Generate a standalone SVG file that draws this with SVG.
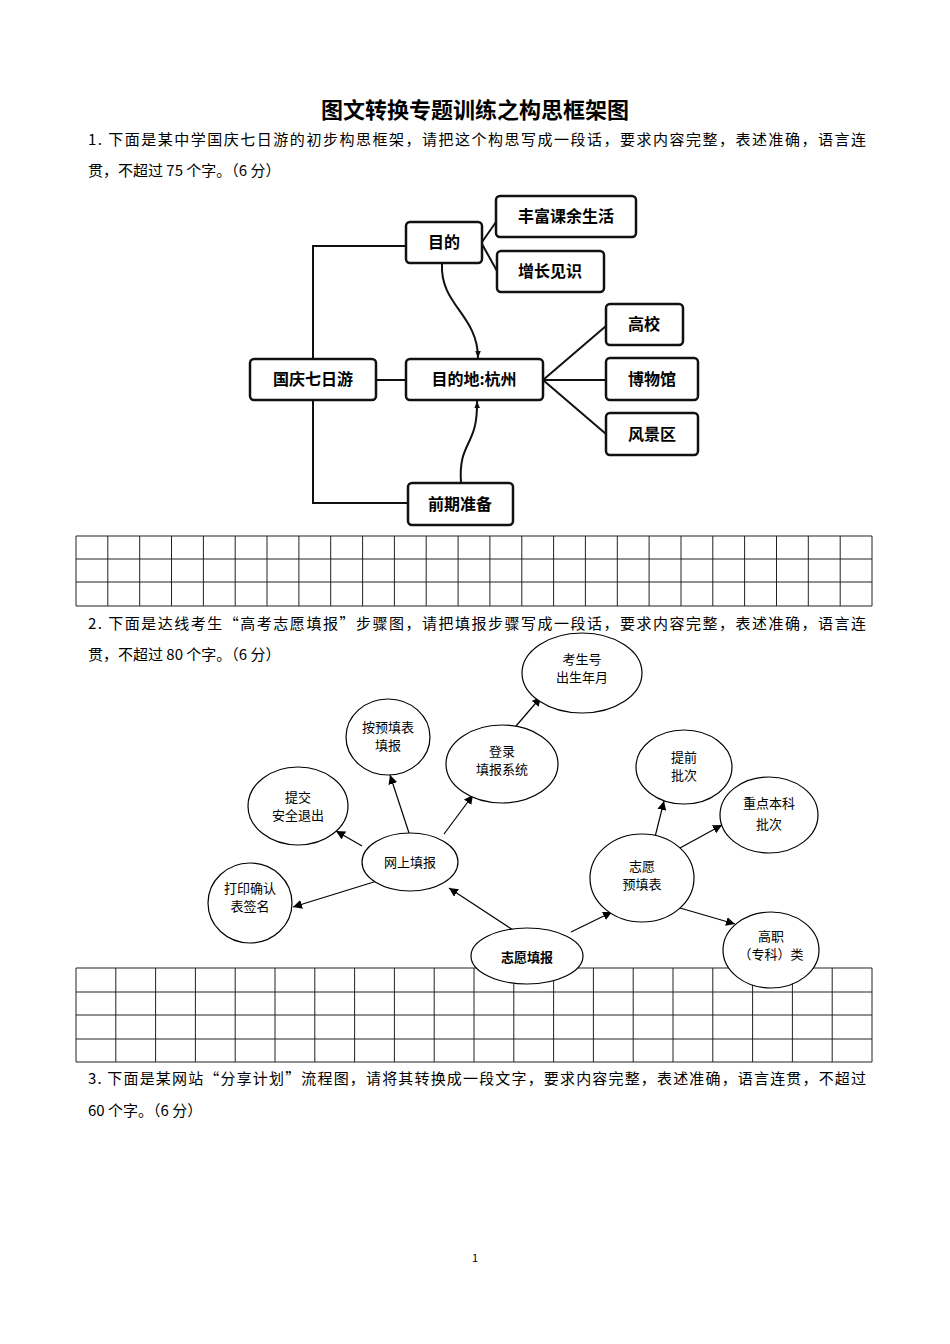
<svg xmlns="http://www.w3.org/2000/svg" width="950" height="1344" viewBox="0 0 950 1344">
<style>
text{font-family:"Noto Sans CJK SC","Liberation Serif",serif;fill:#000}
.p{font-size:15px}
.b1 rect{fill:#fff;stroke:#111;stroke-width:2.5}
.b1 text{font-size:16px;font-weight:bold;text-anchor:middle}
.c1{fill:none;stroke:#111;stroke-width:2}
.e ellipse{fill:#fff;stroke:#000;stroke-width:1.2}
.e text{font-size:13px;text-anchor:middle}
.c2{fill:none;stroke:#000;stroke-width:1.2;marker-end:url(#ah)}
.g{fill:none;stroke:#222;stroke-width:1}
</style>
<defs>
<marker id="ah" viewBox="0 0 10 10" refX="10" refY="5" markerWidth="9" markerHeight="9" markerUnits="userSpaceOnUse" orient="auto"><path d="M0,0L10,5L0,10z" fill="#000"/></marker>
<marker id="ah1" viewBox="0 0 10 10" refX="10" refY="5" markerWidth="7" markerHeight="7" markerUnits="userSpaceOnUse" orient="auto"><path d="M0,1L10,5L0,9z" fill="#111"/></marker>
</defs>
<rect width="950" height="1344" fill="#fff"/>
<text x="475" y="118" font-size="22" font-weight="bold" text-anchor="middle">图文转换专题训练之构思框架图</text>
<text class="p" x="88" y="145" textLength="778">1. 下面是某中学国庆七日游的初步构思框架，请把这个构思写成一段话，要求内容完整，表述准确，语言连</text>
<text class="p" x="88" y="176">贯，不超过 75 个字。（6 分）</text>

<g id="connectors1">
<path class="c1" d="M405,246H313V503H408M376,380H406M482,242L496,222M482,244L497,271M543,380L606,326M543,380H606M543,380L606,434"/>
<path class="c1" d="M442,264C440,305 478,315 478,358" marker-end="url(#ah1)"/>
<path class="c1" d="M461,483C458,440 478,448 477,401" marker-end="url(#ah1)"/>
</g>
<g class="b1">
<g id="n_mudi"><rect x="406" y="222" width="76" height="41" rx="4"/><text x="444" y="248">目的</text></g>
<g id="n_fengfu"><rect x="496" y="196" width="140" height="41" rx="4"/><text x="566" y="222">丰富课余生活</text></g>
<g id="n_zengzhang"><rect x="497" y="251" width="107" height="41" rx="4"/><text x="550" y="277">增长见识</text></g>
<g id="n_guoqing"><rect x="250" y="359" width="126" height="41" rx="4"/><text x="313" y="385">国庆七日游</text></g>
<g id="n_hangzhou"><rect x="406" y="359" width="137" height="41" rx="4"/><text x="474" y="385">目的地:杭州</text></g>
<g id="n_gaoxiao"><rect x="606" y="304" width="77" height="41" rx="4"/><text x="644" y="330">高校</text></g>
<g id="n_bowuguan"><rect x="606" y="358" width="92" height="42" rx="4"/><text x="652" y="385">博物馆</text></g>
<g id="n_fengjing"><rect x="606" y="413" width="92" height="42" rx="4"/><text x="652" y="440">风景区</text></g>
<g id="n_qianqi"><rect x="408" y="483" width="105" height="42" rx="4"/><text x="460" y="510">前期准备</text></g>
</g>

<g id="grid1">
<path class="g" d="M76,536H872M76,559H872M76,582H872M76,606H872"/>
<path class="g" d="M76,536V606M107.8,536V606M139.7,536V606M171.5,536V606M203.4,536V606M235.2,536V606M267,536V606M298.9,536V606M330.7,536V606M362.6,536V606M394.4,536V606M426.2,536V606M458.1,536V606M489.9,536V606M521.8,536V606M553.6,536V606M585.4,536V606M617.3,536V606M649.1,536V606M681,536V606M712.8,536V606M744.6,536V606M776.5,536V606M808.3,536V606M840.2,536V606M872,536V606"/>
</g>

<text class="p" x="88" y="629" textLength="778">2. 下面是达线考生“高考志愿填报”步骤图，请把填报步骤写成一段话，要求内容完整，表述准确，语言连</text>
<text class="p" x="88" y="660">贯，不超过 80 个字。（6 分）</text>

<g id="grid2">
<path class="g" d="M76,968H872M76,992H872M76,1015H872M76,1039H872M76,1062H872"/>
<path class="g" d="M76,968V1062M115.8,968V1062M155.6,968V1062M195.4,968V1062M235.2,968V1062M275,968V1062M314.8,968V1062M354.6,968V1062M394.4,968V1062M434.2,968V1062M474,968V1062M513.8,968V1062M553.6,968V1062M593.4,968V1062M633.2,968V1062M673,968V1062M712.8,968V1062M752.6,968V1062M792.4,968V1062M832.2,968V1062M872,968V1062"/>
</g>

<g id="connectors2">
<path class="c2" d="M513,930L449,888"/>
<path class="c2" d="M444,834L473,795"/>
<path class="c2" d="M516,726L541,697"/>
<path class="c2" d="M409,833L390,775"/>
<path class="c2" d="M362,846L336,831"/>
<path class="c2" d="M377,881L293,907"/>
<path class="c2" d="M571,932L612,912"/>
<path class="c2" d="M655,837L664,801"/>
<path class="c2" d="M680,848L722,825"/>
<path class="c2" d="M680,908L735,924"/>
</g>
<g class="e">
<g id="e_kaosheng"><ellipse cx="582" cy="673" rx="60" ry="40"/><text x="582" y="664">考生号</text><text x="582" y="682">出生年月</text></g>
<g id="e_anyu"><ellipse cx="388" cy="737" rx="42" ry="38"/><text x="388" y="732">按预填表</text><text x="388" y="750">填报</text></g>
<g id="e_denglu"><ellipse cx="502" cy="764" rx="56" ry="39"/><text x="502" y="756">登录</text><text x="502" y="774">填报系统</text></g>
<g id="e_tijiao"><ellipse cx="298" cy="806" rx="50" ry="39"/><text x="298" y="802">提交</text><text x="298" y="820">安全退出</text></g>
<g id="e_wangshang"><ellipse cx="410" cy="862" rx="48" ry="29"/><text x="410" y="867">网上填报</text></g>
<g id="e_dayin"><ellipse cx="250" cy="903" rx="42" ry="40"/><text x="250" y="893">打印确认</text><text x="250" y="911">表签名</text></g>
<g id="e_zhiyuan"><ellipse cx="527" cy="956" rx="56" ry="28"/><text x="527" y="962" font-weight="bold" font-size="14">志愿填报</text></g>
<g id="e_tiqian"><ellipse cx="684" cy="767" rx="48" ry="37"/><text x="684" y="762">提前</text><text x="684" y="780">批次</text></g>
<g id="e_zhongdian"><ellipse cx="769" cy="815" rx="49" ry="38"/><text x="769" y="808">重点本科</text><text x="769" y="829">批次</text></g>
<g id="e_yutian"><ellipse cx="642" cy="878" rx="52" ry="44"/><text x="642" y="871">志愿</text><text x="642" y="889">预填表</text></g>
<g id="e_gaozhi"><ellipse cx="771" cy="950" rx="48" ry="38"/><text x="771" y="941">高职</text><text x="771" y="959">（专科）类</text></g>
</g>

<text class="p" x="88" y="1084" textLength="778">3. 下面是某网站“分享计划”流程图，请将其转换成一段文字，要求内容完整，表述准确，语言连贯，不超过</text>
<text class="p" x="88" y="1116">60 个字。（6 分）</text>
<text x="475" y="1262" font-size="11" text-anchor="middle">1</text>
</svg>
